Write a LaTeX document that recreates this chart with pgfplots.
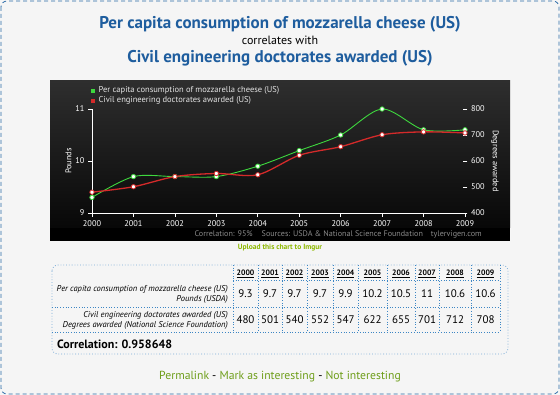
\documentclass[border=0pt]{standalone}
\usepackage{fontspec}
\setmainfont{PT Sans}
\usepackage{pgfplots}
\pgfplotsset{compat=1.18}
\definecolor{titleblue}{HTML}{1E5D9E}
\definecolor{borderblue}{HTML}{2A6BA8}
\definecolor{tableblue}{HTML}{3C86C4}
\definecolor{pagebg}{HTML}{F5F5F5}
\definecolor{linkgreen}{HTML}{6E9E1A}
\definecolor{upgreen}{HTML}{8DB800}
\definecolor{mgreen}{HTML}{3ED83E}
\definecolor{cred}{HTML}{D42A2A}
\definecolor{srcgray}{HTML}{8A8A8A}
\newcommand{\fs}[1]{\fontsize{#1}{#1}\selectfont}
\begin{document}
\begin{tikzpicture}[x=1pt,y=1pt]
\useasboundingbox (0,0) rectangle (560,-395);
\fill[pagebg] (0,0) rectangle (560,-395);
\draw[borderblue, dash pattern=on 4pt off 3pt, rounded corners=6pt, line width=0.8pt] (1,-1) rectangle (559,-394);
% titles
\node[anchor=base, text=titleblue, font=\fs{17}\bfseries, inner sep=0pt] at (280,-29) {Per capita consumption of mozzarella cheese (US)};
\node[anchor=base, font=\fs{12}, inner sep=0pt] at (280,-44.5) {correlates with};
\node[anchor=base, text=titleblue, font=\fs{17}\bfseries, inner sep=0pt] at (280,-63) {Civil engineering doctorates awarded (US)};
% chart background
\shade[top color=black!82, bottom color=black!97] (50,-81) rectangle (510,-228);
\fill[black] (50,-228) rectangle (510,-241);
\node[anchor=base east, text=srcgray, font=\fs{8.1}, inner sep=0pt] at (482,-237) {Correlation: 95\%\hspace{9pt}Sources: USDA \& National Science Foundation\hspace{8pt}tylervigen.com};
\node[anchor=base, text=upgreen, font=\fs{7.5}\bfseries, inner sep=0pt] at (280,-250) {Upload this chart to Imgur};

\begin{axis}[
  at={(92pt,-213pt)}, anchor=south west,
  scale only axis, width=373pt, height=104pt,
  xmin=2000, xmax=2009, ymin=9, ymax=11,
  axis x line*=bottom, axis y line*=left,
  axis line style={white, line width=0.9pt, -},
  xtick={2000,2001,...,2009}, ytick={9,10,11},
  tick style={white, line width=0.7pt},
  major tick length=4pt, tick align=outside,
  ticklabel style={text=white, font=\fs{8.3}},
  /pgf/number format/assume math mode=true,
  xticklabel style={/pgf/number format/1000 sep={}},
  ylabel={Pounds},
  every axis y label/.style={at={(axis description cs:-0.063,0.5)}, rotate=90, anchor=center, text=white, font=\fs{8.3}},
  clip=false,
  legend style={at={(axis description cs:-0.004,1.215)}, anchor=north west, draw=none, fill=none,
    text=white!90!black, font=\fs{8.5}, row sep=2pt, inner sep=0pt,
    nodes={inner sep=0pt, text height=6pt, text depth=2pt},
    /tikz/every odd column/.append style={column sep=4pt}},
  legend cell align=left,
]
\addlegendimage{legend image code/.code={\fill[mgreen] (0pt,-1.8pt) rectangle (3.6pt,1.8pt);}}
\addlegendentry{Per capita consumption of mozzarella cheese (US)}
\addlegendimage{legend image code/.code={\fill[cred] (0pt,-1.8pt) rectangle (3.6pt,1.8pt);}}
\addlegendentry{Civil engineering doctorates awarded (US)}
\addplot[forget plot, mgreen, line width=0.9pt, smooth, mark=*, mark size=2.2pt,
  mark options={fill=white, draw=mgreen, line width=0.8pt}]
  coordinates {(2000,9.3)(2001,9.7)(2002,9.7)(2003,9.7)(2004,9.9)(2005,10.2)(2006,10.5)(2007,11)(2008,10.6)(2009,10.6)};
\end{axis}

\begin{axis}[
  at={(92pt,-213pt)}, anchor=south west,
  scale only axis, width=373pt, height=104pt,
  xmin=2000, xmax=2009, ymin=400, ymax=800,
  axis x line=none, axis y line*=right,
  y axis line style={draw=none},
  ytick={400,500,...,800},
  tick style={white, line width=0.7pt},
  major tick length=5pt, tick align=center,
  ticklabel style={text=white, font=\fs{8.3}},
  /pgf/number format/assume math mode=true,
  ylabel={Degrees awarded},
  every axis y label/.style={at={(axis description cs:1.08,0.5)}, rotate=-90, anchor=center, text=white, font=\fs{8.3}},
  clip=false,
]
\addplot[cred, line width=1.3pt, smooth, mark=*, mark size=2.2pt,
  mark options={fill=white, draw=cred, line width=0.8pt}]
  coordinates {(2000,480)(2001,501)(2002,540)(2003,552)(2004,547)(2005,622)(2006,655)(2007,701)(2008,712)(2009,708)};
\end{axis}

% table
\draw[tableblue!70, dotted, line width=0.8pt, rounded corners=6pt] (52,-265) rectangle (508,-354);
\foreach \x in {233,258,282,307,333,358,387,415,439,471,500}
  \draw[tableblue, dotted, line width=0.7pt] (\x,-265) -- (\x,-332);
\draw[tableblue, dotted, line width=0.7pt] (233,-280) -- (500,-280);
\draw[tableblue, dotted, line width=0.7pt] (52,-307) -- (500,-307);
\draw[tableblue, dotted, line width=0.7pt] (52,-332) -- (500,-332);
\foreach \x/\yr/\a/\b in {245.5/2000/9.3/480, 270/2001/9.7/501, 294.5/2002/9.7/540, 320/2003/9.7/552, 345.5/2004/9.9/547, 372.5/2005/10.2/622, 401/2006/10.5/655, 427/2007/11/701, 455/2008/10.6/712, 485.5/2009/10.6/708}{
  \node[anchor=base, font=\fs{7.8}\bfseries, inner sep=0pt] at (\x,-275.5) {\underline{\yr}};
  \node[anchor=base, font=\fs{11}, inner sep=0pt] at (\x,-298) {\a};
  \node[anchor=base, font=\fs{11}, inner sep=0pt] at (\x,-324) {\b};
}
\node[anchor=base east, font=\fs{8.5}\itshape, inner sep=0pt] at (228,-292) {Per capita consumption of mozzarella cheese (US)};
\node[anchor=base east, font=\fs{8.5}\itshape, inner sep=0pt] at (228,-301.5) {Pounds (USDA)};
\node[anchor=base east, font=\fs{8.5}\itshape, inner sep=0pt] at (228,-318) {Civil engineering doctorates awarded (US)};
\node[anchor=base east, font=\fs{8.5}\itshape, inner sep=0pt] at (228,-328) {Degrees awarded (National Science Foundation)};
\node[anchor=base west, font=\fs{12}\bfseries, inner sep=0pt] at (57,-348.5) {Correlation: 0.958648};
% footer
\node[anchor=base, font=\fs{11.7}, inner sep=0pt] at (280,-380) {\textcolor{linkgreen}{Permalink} - \textcolor{linkgreen}{Mark as interesting} - \textcolor{linkgreen}{Not interesting}};
\end{tikzpicture}
\end{document}
